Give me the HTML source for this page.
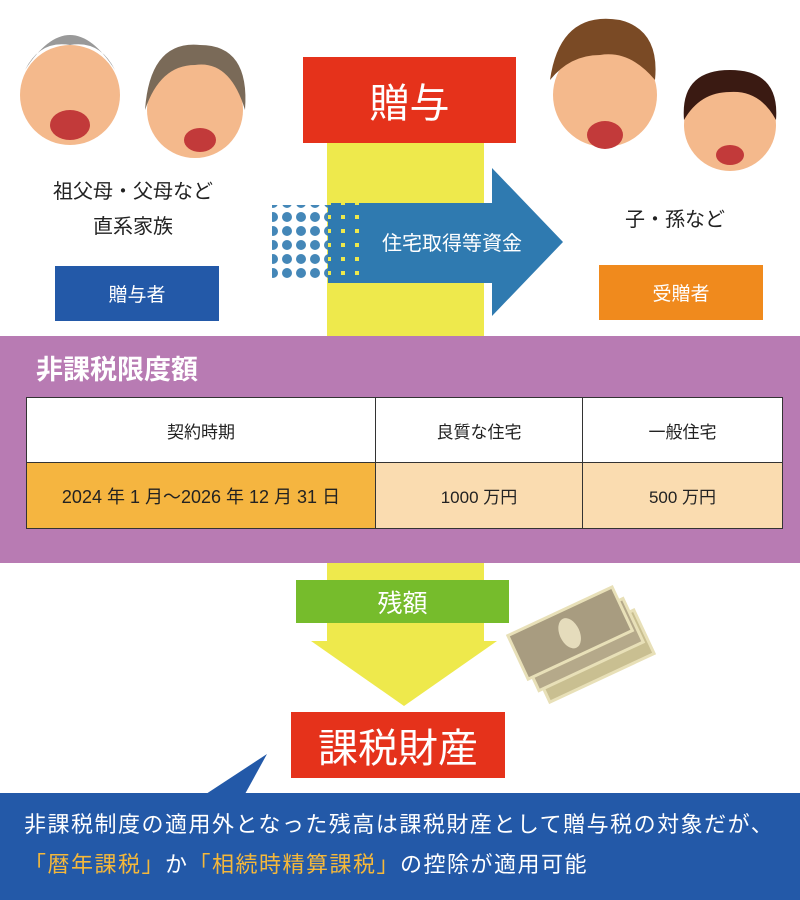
<!DOCTYPE html>
<html><head><meta charset="utf-8"><style>
body{margin:0;width:800px;height:900px;position:relative;background:#fff;overflow:hidden;font-family:"Liberation Sans","Noto Sans CJK JP",sans-serif}
.a{position:absolute;box-sizing:border-box}
.c{display:flex;align-items:center;justify-content:center}
td{border:1px solid #333;text-align:center;font-size:17px;color:#222}
</style></head><body>
<div class="a" style="left:327px;top:140px;width:157px;height:200px;background:#eee94c"></div>
<div class="a c" style="left:303px;top:57px;width:213px;height:86px;background:#e5321b;color:#fff;font-size:40px">贈与</div>
<svg class="a" style="left:0;top:0" width="800" height="340">
<defs><pattern id="d" width="14" height="14" patternUnits="userSpaceOnUse"><circle cx="7" cy="7" r="5" fill="#2f7ab0"/></pattern>
<pattern id="y" width="14" height="14" patternUnits="userSpaceOnUse"><rect width="14" height="14" fill="#2f7ab0"/><rect x="5" y="5" width="4" height="4" fill="#eee94c"/></pattern></defs>
<rect x="272" y="205" width="56" height="76" fill="url(#d)" opacity="0.9"/>
<rect x="328" y="203" width="40" height="80" fill="url(#y)"/>
<polygon points="368,203 492,203 492,168 563,242 492,316 492,283 368,283" fill="#2f7ab0"/>
<text x="452" y="250" fill="#fff" font-size="20" text-anchor="middle">住宅取得等資金</text>
<circle cx="70" cy="95" r="50" fill="#f4b98c"/><path d="M25 70 Q70 0 115 70 Q100 40 70 45 Q40 40 25 70Z" fill="#999"/>
<ellipse cx="70" cy="125" rx="20" ry="15" fill="#c23a3a"/>
<circle cx="195" cy="110" r="48" fill="#f4b98c"/><path d="M145 110 Q150 40 200 45 Q250 45 245 110 Q230 60 195 65 Q160 65 145 110Z" fill="#7a6a58"/>
<ellipse cx="200" cy="140" rx="16" ry="12" fill="#c23a3a"/>
<circle cx="605" cy="95" r="52" fill="#f4b98c"/><path d="M550 80 Q560 10 620 20 Q660 30 655 80 Q630 50 600 55 Q570 55 550 80Z" fill="#7a4a25"/>
<ellipse cx="605" cy="135" rx="18" ry="14" fill="#c23a3a"/>
<circle cx="730" cy="125" r="46" fill="#f4b98c"/><path d="M684 120 Q680 70 730 70 Q780 70 776 120 Q760 90 730 92 Q700 92 684 120Z" fill="#3a1a12"/>
<ellipse cx="730" cy="155" rx="14" ry="10" fill="#c23a3a"/>
</svg>
<div class="a" style="left:20px;top:175px;width:226px;text-align:center;font-size:20px;line-height:35px;color:#222">祖父母・父母など<br>直系家族</div>
<div class="a c" style="left:55px;top:266px;width:164px;height:55px;background:#2359a8;color:#fff;font-size:19px">贈与者</div>
<div class="a" style="left:580px;top:203px;width:190px;text-align:center;font-size:20px;color:#222">子・孫など</div>
<div class="a c" style="left:599px;top:265px;width:164px;height:55px;background:#f08a1d;color:#fff;font-size:19px">受贈者</div>
<div class="a" style="left:0;top:336px;width:800px;height:227px;background:#b87bb3"></div>
<div class="a" style="left:36px;top:348px;color:#fff;font-size:27px;font-weight:bold">非課税限度額</div>
<table class="a" style="left:26px;top:397px;width:757px;height:132px;border-collapse:collapse">
<tr style="height:65px;background:#fff"><td style="width:346px">契約時期</td><td style="width:204px">良質な住宅</td><td>一般住宅</td></tr>
<tr style="background:#fadcb0"><td style="background:#f5b540;font-size:18px">2024 年 1 月～2026 年 12 月 31 日</td><td>1000 万円</td><td>500 万円</td></tr>
</table>
<svg class="a" style="left:0;top:563px" width="800" height="150">
<rect x="327" y="0" width="157" height="80" fill="#eee94c"/>
<polygon points="311,78 497,78 404,143" fill="#eee94c"/>
<g transform="rotate(-25 590 95)"><rect x="535" y="70" width="115" height="48" fill="#c9bf91" stroke="#e8e0b8" stroke-width="3"/><rect x="530" y="55" width="115" height="48" fill="#b5a98a" stroke="#e8e0b8" stroke-width="3"/><rect x="525" y="40" width="115" height="48" fill="#a89c80" stroke="#e8e0b8" stroke-width="3"/><ellipse cx="582" cy="64" rx="10" ry="16" fill="#e5dcbc"/></g>
</svg>
<div class="a c" style="left:296px;top:580px;width:213px;height:43px;background:#76bc2c;color:#fff;font-size:25px">残額</div>
<div class="a c" style="left:291px;top:712px;width:214px;height:66px;background:#e5321b;color:#fff;font-size:40px">課税財産</div>
<svg class="a" style="left:0;top:750px" width="300" height="50"><polygon points="206,44 245,44 267,4" fill="#2359a8"/></svg>
<div class="a" style="left:0;top:793px;width:800px;height:107px;background:#2359a8;color:#fff;font-size:22px;letter-spacing:1.5px;line-height:40px;padding:12px 0 0 24px;white-space:nowrap">非課税制度の適用外となった残高は課税財産として贈与税の対象だが、<br><span style="color:#f5b83a">「暦年課税」</span>か<span style="color:#f5b83a">「相続時精算課税」</span>の控除が適用可能</div>
</body></html>
